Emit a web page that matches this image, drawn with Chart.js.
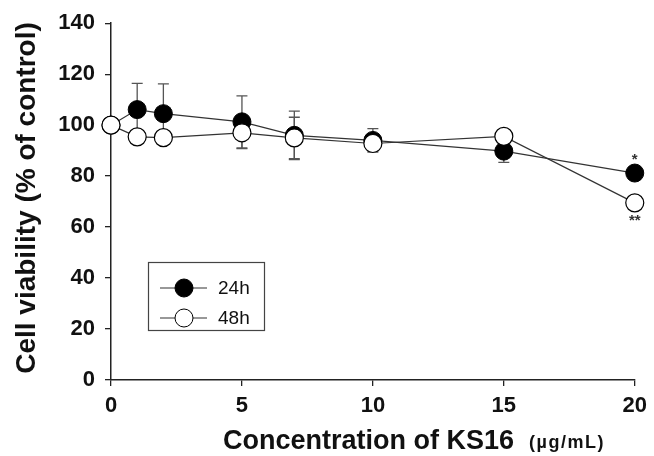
<!DOCTYPE html>
<html>
<head>
<meta charset="utf-8">
<script src="https://cdn.jsdelivr.net/npm/chart.js@4.4.0/dist/chart.umd.min.js"></script>
<style>
  html, body { margin: 0; padding: 0; background: #fff; }
</style>
</head>
<body>
<canvas id="viabilityChart" width="654" height="456"></canvas>
<script>
// Data
const concentrations = [0, 1, 2, 5, 7, 10, 15, 20];
const viability24h = [100, 106.1, 104.5, 101.3, 96.0, 94.0, 89.8, 81.2];
const sd24h = [0, 10.3, 11.7, 10.2, 9.5, 4.6, 4.4, 2.5];
const viability48h = [100, 95.4, 95.1, 97.0, 95.0, 92.8, 95.6, 69.5];
const sd48h = [0, 2, 2, 6.2, 8.1, 3.0, 2, 2.5];
const seriesLabels = ["24h", "48h"];
const xTicks = [0, 5, 10, 15, 20];
const yTicks = [0, 20, 40, 60, 80, 100, 120, 140];
const yTitle = "Cell viability (% of control)";
const xTitle = "Concentration of KS16";
const xUnit = "(\u00b5g/mL)";
// significance marks: [dataset index, point index, text, above?]
const marks = [[0, 7, "*", true], [1, 7, "**", false]];

const FONT = '"Liberation Sans", Arial, Helvetica, sans-serif';
const AXIS = "#222";

function toPoints(xs, ys) {
    return xs.map((x, i) => ({ x: x, y: ys[i] }));
}

const errorBars = {
    id: "errorBars",
    beforeDatasetsDraw(chart) {
        const ctx = chart.ctx;
        const sx = chart.scales.x, sy = chart.scales.y;
        const sets = [[viability24h, sd24h], [viability48h, sd48h]];
        ctx.save();
        ctx.strokeStyle = "#555";
        ctx.lineWidth = 1.3;
        sets.forEach(([means, sds]) => {
            means.forEach((m, i) => {
                if (!sds[i]) return;
                const px = sx.getPixelForValue(concentrations[i]);
                const top = sy.getPixelForValue(m + sds[i]);
                const bot = sy.getPixelForValue(m - sds[i]);
                ctx.beginPath();
                ctx.moveTo(px, top); ctx.lineTo(px, bot);
                ctx.moveTo(px - 5.5, top); ctx.lineTo(px + 5.5, top);
                ctx.moveTo(px - 5.5, bot); ctx.lineTo(px + 5.5, bot);
                ctx.stroke();
            });
        });
        ctx.restore();
    }
};

const decorations = {
    id: "decorations",
    afterDraw(chart) {
        const ctx = chart.ctx;
        const sx = chart.scales.x, sy = chart.scales.y;
        ctx.save();

        // significance stars
        ctx.fillStyle = "#333";
        ctx.font = "bold 15px " + FONT;
        ctx.textAlign = "center";
        ctx.textBaseline = "middle";
        marks.forEach(([ds, idx, txt, above]) => {
            const vals = ds === 0 ? viability24h : viability48h;
            const px = sx.getPixelForValue(concentrations[idx]);
            const py = sy.getPixelForValue(vals[idx]);
            ctx.fillText(txt, px, above ? py - 13 : py + 18);
        });

        // legend box
        ctx.strokeStyle = "#444";
        ctx.lineWidth = 1.2;
        ctx.strokeRect(148.5, 262.5, 116, 68);
        const fills = ["#000", "#fff"];
        seriesLabels.forEach((lab, i) => {
            const y = 288 + i * 30;
            ctx.strokeStyle = "#333";
            ctx.lineWidth = 1.2;
            ctx.beginPath();
            ctx.moveTo(160, y); ctx.lineTo(207, y);
            ctx.stroke();
            ctx.beginPath();
            ctx.arc(184, y, 9, 0, Math.PI * 2);
            ctx.fillStyle = fills[i];
            ctx.fill();
            ctx.strokeStyle = "#000";
            ctx.lineWidth = 1;
            ctx.stroke();
            ctx.fillStyle = "#111";
            ctx.font = "19px " + FONT;
            ctx.textAlign = "left";
            ctx.textBaseline = "middle";
            ctx.fillText(lab, 218, y + 1);
        });

        // y title
        ctx.save();
        ctx.translate(27, 198);
        ctx.rotate(-Math.PI / 2);
        ctx.fillStyle = "#111";
        ctx.font = "bold 28px " + FONT;
        ctx.textAlign = "center";
        ctx.textBaseline = "middle";
        ctx.fillText(yTitle, 0, 0);
        ctx.restore();

        // x title with smaller unit
        ctx.fillStyle = "#111";
        ctx.textAlign = "left";
        ctx.textBaseline = "alphabetic";
        ctx.font = "bold 27px " + FONT;
        ctx.fillText(xTitle, 223, 449);
        const w = ctx.measureText(xTitle).width;
        ctx.font = "bold 18px " + FONT;
        ctx.letterSpacing = "1.5px";
        ctx.fillText(xUnit, 223 + w + 15, 448);
        ctx.letterSpacing = "0px";

        ctx.restore();
    }
};

const tickFont = { family: FONT, size: 22, weight: "bold" };

new Chart(document.getElementById("viabilityChart"), {
    type: "line",
    data: {
        datasets: [{
            label: seriesLabels[0],
            data: toPoints(concentrations, viability24h),
            borderColor: "#333",
            borderWidth: 1.2,
            pointRadius: 9,
            pointBackgroundColor: "#000",
            pointBorderColor: "#000",
            pointBorderWidth: 1,
            tension: 0,
            fill: false,
            clip: false,
            order: 1
        }, {
            label: seriesLabels[1],
            data: toPoints(concentrations, viability48h),
            borderColor: "#333",
            borderWidth: 1.2,
            pointRadius: 9,
            pointBackgroundColor: "#fff",
            pointBorderColor: "#000",
            pointBorderWidth: 1.2,
            tension: 0,
            fill: false,
            clip: false,
            order: 0
        }]
    },
    options: {
        responsive: false,
        animation: false,
        devicePixelRatio: 1,
        layout: { padding: { top: 20, right: 15, left: 0, bottom: 0 } },
        plugins: {
            legend: { display: false },
            tooltip: { enabled: false }
        },
        scales: {
            x: {
                type: "linear",
                min: 0,
                max: 20,
                afterBuildTicks: s => { s.ticks = xTicks.map(v => ({ value: v })); },
                afterFit: s => { s.height = 76; },
                grid: { drawOnChartArea: false, drawTicks: true, tickLength: 6, color: AXIS, lineWidth: 1.3 },
                border: { display: true, color: AXIS, width: 1.5 },
                ticks: { font: tickFont, color: "#111", padding: 7, maxRotation: 0 }
            },
            y: {
                min: 0,
                max: 140,
                afterBuildTicks: s => { s.ticks = yTicks.map(v => ({ value: v })); },
                afterFit: s => { s.width = 111; },
                grid: { drawOnChartArea: false, drawTicks: true, tickLength: 6, color: AXIS, lineWidth: 1.3 },
                border: { display: true, color: AXIS, width: 1.5 },
                ticks: { font: tickFont, color: "#111", padding: 10 }
            }
        }
    },
    plugins: [errorBars, decorations]
});
</script>
</body>
</html>
